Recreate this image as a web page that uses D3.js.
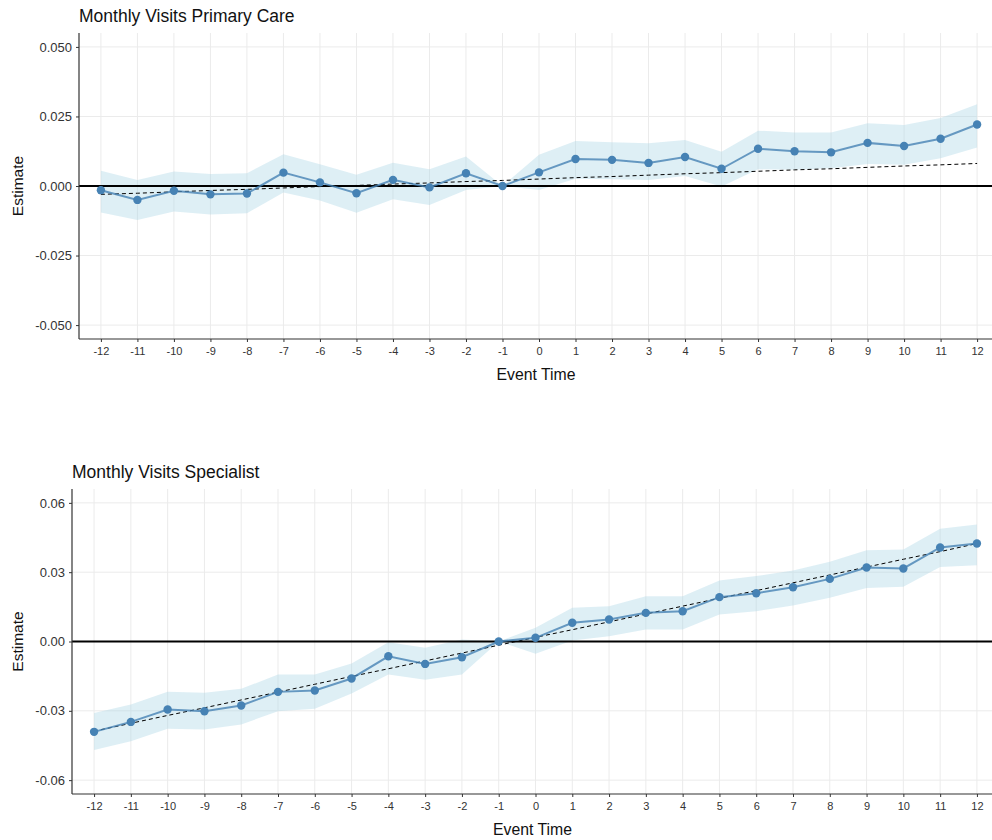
<!DOCTYPE html>
<html>
<head>
<meta charset="utf-8">
<script src="https://cdn.jsdelivr.net/npm/d3@7"></script>
<style>
  html, body { margin: 0; padding: 0; background: #fff; }
  svg { display: block; font-family: "Liberation Sans", Arial, sans-serif; }
</style>
</head>
<body>
<svg id="chart" width="992" height="840"></svg>
<script>
// ---------- data ----------
const eventTime = [-12,-11,-10,-9,-8,-7,-6,-5,-4,-3,-2,-1,0,1,2,3,4,5,6,7,8,9,10,11,12];

// Panel 1: Monthly Visits Primary Care
const pcEstimate = [-0.0015,-0.0050,-0.0017,-0.0030,-0.0027,0.0048,0.0013,-0.0026,0.0022,-0.0005,0.0046,0.0000,0.0049,0.0097,0.0094,0.0083,0.0104,0.0062,0.0134,0.0125,0.0121,0.0155,0.0144,0.0170,0.0221];
const pcUpper    = [0.0055,0.0022,0.0052,0.0043,0.0046,0.0114,0.0078,0.0040,0.0084,0.0060,0.0106,0.0000,0.0112,0.0162,0.0157,0.0154,0.0165,0.0123,0.0199,0.0192,0.0192,0.0226,0.0219,0.0244,0.0294];
const pcLower    = [-0.0095,-0.0122,-0.0092,-0.0102,-0.0098,-0.0023,-0.0052,-0.0096,-0.0048,-0.0068,-0.0014,0.0000,-0.0014,0.0026,0.0024,0.0022,0.0036,-0.0002,0.0060,0.0058,0.0064,0.0079,0.0076,0.0100,0.0138];
const pcTrend    = [-0.0030,-0.0026,-0.0021,-0.0016,-0.0012,-0.0007,-0.0002,0.0002,0.0007,0.0011,0.0016,0.0020,0.0025,0.0030,0.0034,0.0039,0.0044,0.0048,0.0053,0.0058,0.0062,0.0067,0.0072,0.0076,0.0081];
const pcTicks    = [-0.050,-0.025,0.000,0.025,0.050];
const pcTickLabels = ["-0.050","-0.025","0.000","0.025","0.050"];

// Panel 2: Monthly Visits Specialist
const spEstimate = [-0.0391,-0.0348,-0.0294,-0.0302,-0.0277,-0.0218,-0.0212,-0.0160,-0.0064,-0.0097,-0.0068,0.0000,0.0016,0.0081,0.0095,0.0124,0.0131,0.0192,0.0209,0.0235,0.0271,0.0320,0.0316,0.0407,0.0424];
const spUpper    = [-0.0309,-0.0273,-0.0218,-0.0222,-0.0205,-0.0143,-0.0143,-0.0095,-0.0003,-0.0027,0.0009,0.0000,0.0059,0.0146,0.0153,0.0196,0.0196,0.0264,0.0283,0.0307,0.0345,0.0395,0.0398,0.0488,0.0506];
const spLower    = [-0.0470,-0.0432,-0.0378,-0.0381,-0.0359,-0.0302,-0.0291,-0.0225,-0.0143,-0.0165,-0.0143,0.0000,-0.0053,0.0004,0.0023,0.0052,0.0052,0.0117,0.0131,0.0156,0.0189,0.0232,0.0237,0.0322,0.0330];
const spTrend    = [-0.0388,-0.0354,-0.0320,-0.0287,-0.0253,-0.0219,-0.0185,-0.0151,-0.0118,-0.0084,-0.0050,-0.0016,0.0018,0.0051,0.0085,0.0119,0.0153,0.0187,0.0220,0.0254,0.0288,0.0322,0.0356,0.0389,0.0424];
const spTicks    = [-0.06,-0.03,0.00,0.03,0.06];
const spTickLabels = ["-0.06","-0.03","0.00","0.03","0.06"];

const xTickLabels = ["-12","-11","-10","-9","-8","-7","-6","-5","-4","-3","-2","-1","0","1","2","3","4","5","6","7","8","9","10","11","12"];
const panelTitles = ["Monthly Visits Primary Care", "Monthly Visits Specialist"];
const xTitle = "Event Time";
const yTitle = "Estimate";

// ---------- drawing ----------
const svg = d3.select("#chart");

function drawPanel(opt) {
  const { left, right, top, bottom, yDomain, estimate, upper, lower, trend, yTicks, yLabels, title, xTitleY } = opt;
  const rows = eventTime.map((t, i) => ({ t, est: estimate[i], up: upper[i], lo: lower[i], tr: trend[i] }));

  const x = d3.scaleLinear().domain([-12.6, 12.6]).range([left, right]);
  const y = d3.scaleLinear().domain(yDomain).range([bottom, top]);

  const g = svg.append("g");

  // grid
  g.append("g").selectAll("line").data(eventTime).join("line")
    .attr("x1", d => x(d)).attr("x2", d => x(d)).attr("y1", top).attr("y2", bottom)
    .attr("stroke", "#ebebeb").attr("stroke-width", 1);
  g.append("g").selectAll("line").data(yTicks).join("line")
    .attr("x1", left).attr("x2", right).attr("y1", d => y(d)).attr("y2", d => y(d))
    .attr("stroke", "#ebebeb").attr("stroke-width", 1);

  // ribbon
  g.append("path").datum(rows)
    .attr("d", d3.area().x(d => x(d.t)).y0(d => y(d.lo)).y1(d => y(d.up)))
    .attr("fill", "#add8e6").attr("fill-opacity", 0.4);

  // zero line
  g.append("line").attr("x1", left).attr("x2", right).attr("y1", y(0)).attr("y2", y(0))
    .attr("stroke", "#000").attr("stroke-width", 2);

  // trend dashed
  g.append("path").datum(rows)
    .attr("d", d3.line().x(d => x(d.t)).y(d => y(d.tr)))
    .attr("fill", "none").attr("stroke", "#000").attr("stroke-width", 1)
    .attr("stroke-dasharray", "4,3");

  // estimate line
  g.append("path").datum(rows)
    .attr("d", d3.line().x(d => x(d.t)).y(d => y(d.est)))
    .attr("fill", "none").attr("stroke", "#4682b4").attr("stroke-opacity", 0.8).attr("stroke-width", 2);

  // points
  g.append("g").selectAll("circle").data(rows).join("circle")
    .attr("cx", d => x(d.t)).attr("cy", d => y(d.est)).attr("r", 4.2)
    .attr("fill", "#4682b4");

  // axes
  const yAxis = g.append("g").attr("transform", `translate(${left},0)`)
    .call(d3.axisLeft(y).tickValues(yTicks).tickFormat((d, i) => yLabels[i]).tickSize(3).tickPadding(4).tickSizeOuter(0));
  yAxis.select(".domain").attr("d", `M0,${top}V${bottom}`).attr("stroke", "#333").attr("stroke-width", 1.2);
  yAxis.selectAll(".tick line").attr("stroke", "#333");
  yAxis.selectAll(".tick text").attr("fill", "#333").style("font-size", "13px").style("font-family", "Liberation Sans, Arial, sans-serif");

  const xAxis = g.append("g").attr("transform", `translate(0,${bottom})`)
    .call(d3.axisBottom(x).tickValues(eventTime).tickFormat((d, i) => xTickLabels[i]).tickSize(3).tickPadding(5).tickSizeOuter(0));
  xAxis.select(".domain").attr("d", `M${left},0H${right}`).attr("stroke", "#333").attr("stroke-width", 1.2);
  xAxis.selectAll(".tick line").attr("stroke", "#333");
  xAxis.selectAll(".tick text").attr("fill", "#333").style("font-size", "11px").style("font-family", "Liberation Sans, Arial, sans-serif");

  // titles
  g.append("text").attr("x", left).attr("y", top - 11).text(title)
    .attr("fill", "#111").style("font-size", "17.5px");
  g.append("text").attr("x", (left + 999) / 2 - 3).attr("y", xTitleY).attr("text-anchor", "middle")
    .text(xTitle).attr("fill", "#111").style("font-size", "15.8px");
  g.append("text").attr("transform", `translate(23,${(top + bottom) / 2}) rotate(-90)`)
    .attr("text-anchor", "middle").text(yTitle).attr("fill", "#111").style("font-size", "15.5px");
}

drawPanel({
  left: 79, right: 999, top: 33, bottom: 339, yDomain: [-0.055, 0.055],
  estimate: pcEstimate, upper: pcUpper, lower: pcLower, trend: pcTrend,
  yTicks: pcTicks, yLabels: pcTickLabels, title: panelTitles[0], xTitleY: 380
});

drawPanel({
  left: 72, right: 999, top: 489, bottom: 794, yDomain: [-0.066, 0.066],
  estimate: spEstimate, upper: spUpper, lower: spLower, trend: spTrend,
  yTicks: spTicks, yLabels: spTickLabels, title: panelTitles[1], xTitleY: 835
});
</script>
</body>
</html>
